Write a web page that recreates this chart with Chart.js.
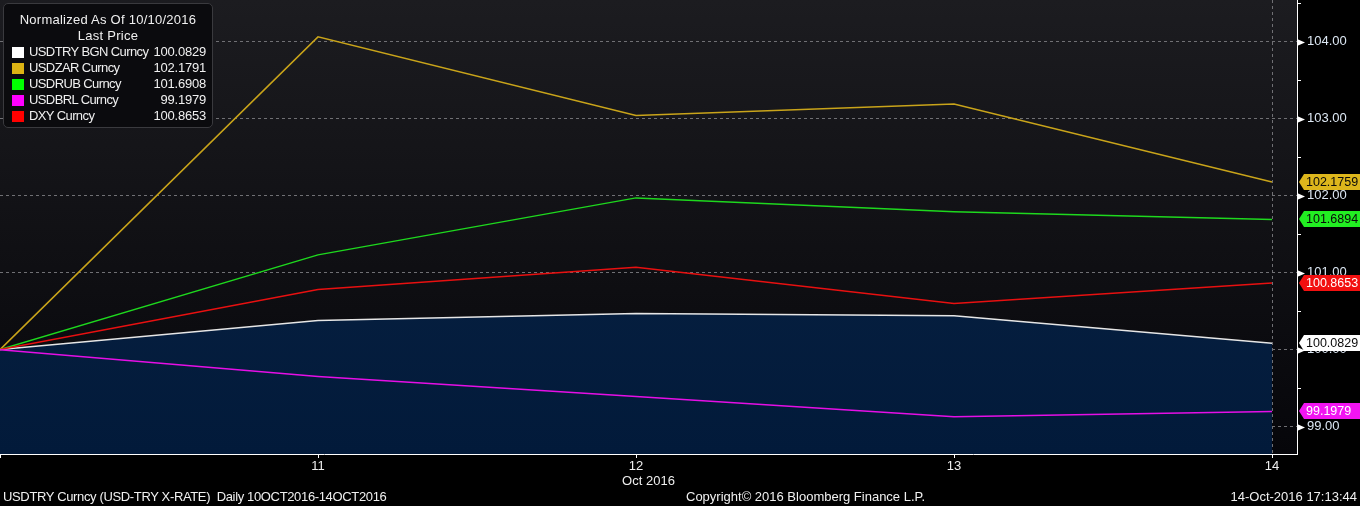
<!DOCTYPE html>
<html><head><meta charset="utf-8">
<script src="https://cdn.jsdelivr.net/npm/chart.js@4.4.0/dist/chart.umd.min.js"></script>
<style>
html,body{margin:0;padding:0;background:#000;width:1360px;height:506px;overflow:hidden}
#wrap{position:relative;width:1360px;height:506px}
canvas{position:absolute;left:0;top:0}
.t{position:absolute;font-family:"Liberation Sans",Arial,sans-serif;font-size:13px;color:#f0f0f0;white-space:pre;line-height:16px}
#legend{position:absolute;left:3px;top:3px;width:210px;height:125px;box-sizing:border-box;background:#0b0b0e;border:1px solid #3a3a3e;border-radius:5px}
.sw{position:absolute;left:12px;width:12px;height:11px}
</style></head>
<body><div id="wrap"><canvas id="c" width="1360" height="506"></canvas>
<div id="legend"></div>
<div id="lg"></div>
<div class="t" style="left:3px;top:489px;letter-spacing:-0.35px">USDTRY Curncy (USD-TRY X-RATE)  Daily 10OCT2016-14OCT2016</div>
<div class="t" style="left:686px;top:489px">Copyright© 2016 Bloomberg Finance L.P.</div>
<div class="t" style="right:3px;top:489px">14-Oct-2016 17:13:44</div>
</div>
<script>
// ---- data ----
const categories = [10, 11, 12, 13, 14];
const xTickLabels = ['', '11', '12', '13', '14'];
const xAxisTitle = 'Oct 2016';
const seriesNames = ['USDTRY BGN Curncy', 'USDZAR Curncy', 'USDRUB Curncy', 'USDBRL Curncy', 'DXY Curncy'];
const legendValues = ['100.0829', '102.1791', '101.6908', '99.1979', '100.8653'];
const usdtry = [100, 100.377, 100.47, 100.44, 100.0829];
const usdzar = [100, 104.06, 103.04, 103.19, 102.1759];
const usdrub = [100, 101.23, 101.97, 101.79, 101.6894];
const usdbrl = [100, 99.65, 99.39, 99.13, 99.1979];
const dxy = [100, 100.78, 101.07, 100.60, 100.8653];
const yMajorTicks = [99, 100, 101, 102, 103, 104];
const yMinorTicks = [99.5, 100.5, 101.5, 102.5, 103.5, 104.5];
const legendTitle1 = 'Normalized As Of 10/10/2016';
const legendTitle2 = 'Last Price';

const FONT = "'Liberation Sans', Arial, sans-serif";
const FS = 13;
const series = [
  {name: seriesNames[3], data: usdbrl, line: '#e60fe6', sw: '#ff00ff', tag: '#f214f2', tagText: '#ffffff'},
  {name: seriesNames[4], data: dxy, line: '#e81010', sw: '#ff0000', tag: '#f21010', tagText: '#ffffff'},
  {name: seriesNames[2], data: usdrub, line: '#1ed81e', sw: '#00ff00', tag: '#22ee22', tagText: '#0a0a0a'},
  {name: seriesNames[1], data: usdzar, line: '#c9a41a', sw: '#dcb414', tag: '#ddb61c', tagText: '#0a0a0a'},
  {name: seriesNames[0], data: usdtry, line: '#e6e6e6', sw: '#ffffff', tag: '#ffffff', tagText: '#0a0a0a', fill: true}
];

// legend (HTML)
const lg = document.getElementById('lg');
function addText(txt, css){ const d=document.createElement('div'); d.className='t'; d.textContent=txt; d.style.cssText+=css; lg.appendChild(d); return d; }
addText(legendTitle1, 'left:3px;width:210px;text-align:center;top:12px;letter-spacing:0.25px');
addText(legendTitle2, 'left:3px;width:210px;text-align:center;top:28px;letter-spacing:0.25px');
const legendOrder = [4, 3, 2, 0, 1];
legendOrder.forEach((si, r) => {
  const s = series[si];
  const cy = 52 + 16 * r;
  const sw = document.createElement('div'); sw.className='sw'; sw.style.top=(cy-5.5)+'px'; sw.style.background=s.sw; lg.appendChild(sw);
  addText(s.name, 'left:29px;top:'+(cy-8)+'px;letter-spacing:-0.6px');
  addText(legendValues[r], 'left:100px;width:106px;text-align:right;top:'+(cy-8)+'px;letter-spacing:-0.2px');
});

const isMajor = v => yMajorTicks.indexOf(Math.round(v*100)/100) >= 0;

const bgPlugin = {
  id: 'bg',
  beforeDraw(chart) {
    const {ctx, chartArea: ca} = chart;
    ctx.save();
    ctx.fillStyle = '#000';
    ctx.fillRect(0, 0, chart.width, chart.height);
    const g = ctx.createLinearGradient(0, ca.top, 0, ca.bottom);
    g.addColorStop(0, '#1c1c20');
    g.addColorStop(1, '#06060a');
    ctx.fillStyle = g;
    ctx.fillRect(ca.left, ca.top, ca.right - ca.left, ca.bottom - ca.top);
    ctx.restore();
  }
};

const markPlugin = {
  id: 'marks',
  afterDraw(chart) {
    const {ctx, chartArea: ca} = chart;
    const ys = chart.scales.y;
    ctx.save();
    ctx.fillStyle = '#ffffff';
    yMajorTicks.forEach(v => {
      const y = Math.round(ys.getPixelForValue(v)) + 0.5;
      ctx.beginPath();
      ctx.moveTo(ca.right, y - 3.5);
      ctx.lineTo(ca.right, y + 3.5);
      ctx.lineTo(ca.right + 8, y);
      ctx.closePath();
      ctx.fill();
    });
    series.forEach(s => {
      const v = s.data[s.data.length - 1];
      const y = Math.round(ys.getPixelForValue(v));
      const x0 = ca.right + 2;
      ctx.fillStyle = s.tag;
      ctx.beginPath();
      ctx.moveTo(x0, y);
      ctx.lineTo(x0 + 5, y - 8);
      ctx.lineTo(chart.width, y - 8);
      ctx.lineTo(chart.width, y + 8);
      ctx.lineTo(x0 + 5, y + 8);
      ctx.closePath();
      ctx.fill();
      ctx.fillStyle = s.tagText;
      ctx.font = '12.5px ' + FONT;
      ctx.textAlign = 'left';
      ctx.textBaseline = 'middle';
      ctx.fillText(v.toFixed(4), x0 + 7, y + 1);
    });
    ctx.restore();
  }
};

const datasets = series.map(s => ({
  label: s.name,
  data: categories.map((x, i) => ({x: x, y: s.data[i]})),
  borderColor: s.line,
  borderWidth: 1.5,
  pointRadius: 0,
  tension: 0,
  fill: s.fill ? 'start' : false,
  backgroundColor: s.fill ? (c => {
    const ca = c.chart.chartArea;
    if (!ca) return '#08223f';
    const g = c.chart.ctx.createLinearGradient(0, ca.top, 0, ca.bottom);
    g.addColorStop(0, '#0b2648');
    g.addColorStop(1, '#021a3a');
    return g;
  }) : 'transparent'
}));

new Chart(document.getElementById('c'), {
  type: 'line',
  data: {datasets},
  plugins: [bgPlugin, markPlugin],
  options: {
    responsive: false,
    animation: false,
    devicePixelRatio: 1,
    layout: {padding: {left: 0, right: 0, top: 0, bottom: 18}},
    plugins: {legend: {display: false}, tooltip: {enabled: false}},
    scales: {
      x: {
        type: 'linear', min: 10, max: 14.0786,
        afterBuildTicks: s => { s.ticks = categories.map(v => ({value: v})); },
        ticks: {callback: (v, i) => xTickLabels[i] || '', color: '#eeeeee', font: {family: FONT, size: FS}, padding: 1, maxRotation: 0, autoSkip: false},
        grid: {color: c => (c.tick && c.tick.value === 14) ? '#707074' : 'rgba(0,0,0,0)', tickColor: '#ffffff', tickLength: 4, lineWidth: 1},
        border: {display: true, color: '#ffffff', width: 1, dash: [3, 3]},
        title: {display: true, text: xAxisTitle, color: '#eeeeee', font: {family: FONT, size: FS}, padding: {top: 0, bottom: -1}},
        afterFit: s => { s.height = 34; s.paddingLeft = 0; s.paddingRight = 0; }
      },
      y: {
        position: 'right', min: 98.645, max: 104.539,
        afterBuildTicks: s => { s.ticks = yMajorTicks.concat(yMinorTicks).sort((a, b) => a - b).map(v => ({value: v})); },
        ticks: {callback: v => isMajor(v) ? v.toFixed(2) : '', color: '#dce7f3', font: {family: FONT, size: FS}, padding: 6, autoSkip: false},
        grid: {color: c => (c.tick && isMajor(c.tick.value)) ? '#707074' : 'rgba(0,0,0,0)', tickColor: c => (c.tick && isMajor(c.tick.value)) ? 'rgba(0,0,0,0)' : '#ffffff', tickLength: 4, lineWidth: 1},
        border: {display: true, color: '#ffffff', width: 1, dash: [3, 3]},
        afterFit: s => { s.width = 63; s.paddingTop = 0; s.paddingBottom = 0; }
      }
    }
  }
});
</script></body></html>
